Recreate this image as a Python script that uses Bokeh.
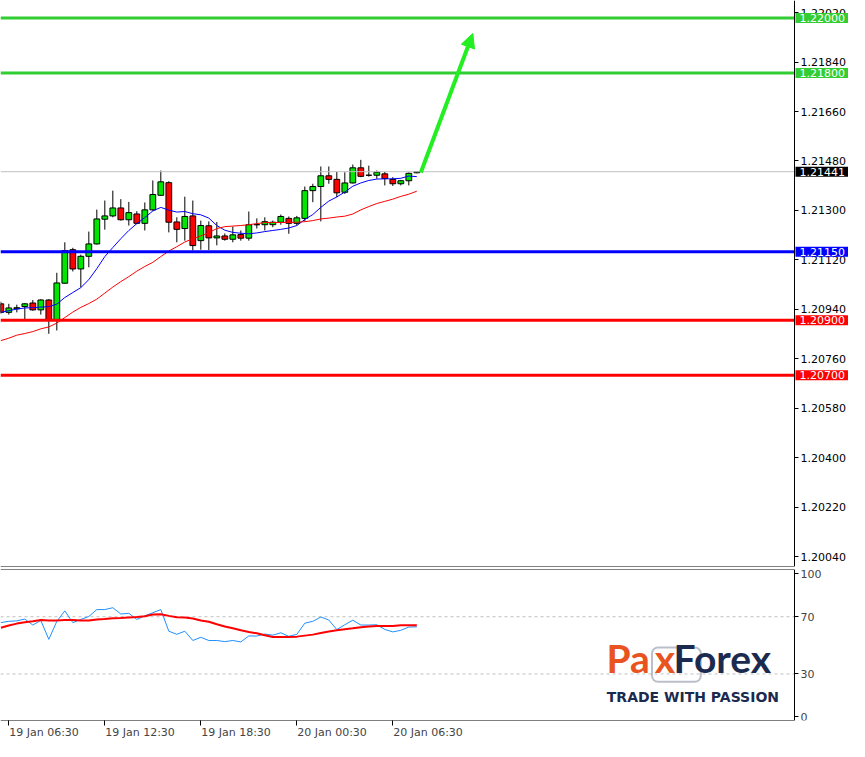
from bokeh.plotting import figure
from bokeh.models import (ColumnDataSource, Range1d, FixedTicker, Label,
                          Arrow, NormalHead, BoxAnnotation, NumeralTickFormatter, LinearAxis)
from bokeh.layouts import column
from bokeh.embed import file_html
from bokeh.resources import INLINE

# ---------------- data (EURUSD M30) ----------------
bar_index = list(range(53))
open_ = [1.20960, 1.20929, 1.20942, 1.20950, 1.20963, 1.20938, 1.20974, 1.20902, 1.21035, 1.21157,
         1.21087, 1.21133, 1.21178, 1.21268, 1.21280, 1.21309, 1.21266, 1.21287, 1.21253, 1.21302,
         1.21355, 1.21401, 1.21258, 1.21234, 1.21280, 1.21190, 1.21244, 1.21200, 1.21207, 1.21195,
         1.21212, 1.21199, 1.21248, 1.21248, 1.21248, 1.21257, 1.21271, 1.21253, 1.21271, 1.21372,
         1.21387, 1.21426, 1.21413, 1.21366, 1.21400, 1.21455, 1.21428, 1.21428, 1.21433, 1.21413,
         1.21397, 1.21408, 1.21437]
high = [1.20968, 1.20960, 1.20957, 1.20963, 1.20974, 1.20977, 1.20977, 1.21073, 1.21184, 1.21164,
        1.21139, 1.21223, 1.21303, 1.21336, 1.21372, 1.21341, 1.21331, 1.21297, 1.21329, 1.21409,
        1.21445, 1.21406, 1.21275, 1.21350, 1.21336, 1.21263, 1.21260, 1.21258, 1.21216, 1.21241,
        1.21227, 1.21296, 1.21271, 1.21275, 1.21263, 1.21285, 1.21278, 1.21280, 1.21387, 1.21397,
        1.21460, 1.21460, 1.21440, 1.21439, 1.21467, 1.21484, 1.21463, 1.21445, 1.21440, 1.21421,
        1.21411, 1.21438, 1.21442]
low = [1.20924, 1.20921, 1.20929, 1.20902, 1.20935, 1.20921, 1.20851, 1.20863, 1.21034, 1.21078,
       1.21020, 1.21093, 1.21176, 1.21230, 1.21275, 1.21263, 1.21245, 1.21250, 1.21227, 1.21299,
       1.21354, 1.21220, 1.21184, 1.21190, 1.21154, 1.21157, 1.21156, 1.21173, 1.21190, 1.21184,
       1.21190, 1.21190, 1.21234, 1.21227, 1.21239, 1.21248, 1.21215, 1.21245, 1.21260, 1.21330,
       1.21260, 1.21397, 1.21348, 1.21360, 1.21398, 1.21421, 1.21423, 1.21415, 1.21391, 1.21389,
       1.21391, 1.21391, 1.21435]
close = [1.20929, 1.20945, 1.20946, 1.20960, 1.20938, 1.20974, 1.20902, 1.21036, 1.21154, 1.21087,
         1.21133, 1.21178, 1.21269, 1.21280, 1.21309, 1.21266, 1.21292, 1.21253, 1.21302, 1.21358,
         1.21404, 1.21257, 1.21231, 1.21278, 1.21172, 1.21245, 1.21200, 1.21207, 1.21195, 1.21211,
         1.21199, 1.21248, 1.21248, 1.21259, 1.21257, 1.21278, 1.21253, 1.21273, 1.21372, 1.21387,
         1.21426, 1.21413, 1.21364, 1.21400, 1.21455, 1.21424, 1.21428, 1.21439, 1.21416, 1.21397,
         1.21408, 1.21435, 1.21441]
ma_fast = [1.20929, 1.20935, 1.20941, 1.20945, 1.20946, 1.20948, 1.20950, 1.20959, 1.20983, 1.21001,
           1.21019, 1.21048, 1.21088, 1.21132, 1.21165, 1.21197, 1.21227, 1.21252, 1.21274, 1.21298,
           1.21311, 1.21301, 1.21294, 1.21296, 1.21288, 1.21284, 1.21272, 1.21245, 1.21228, 1.21220,
           1.21217, 1.21215, 1.21218, 1.21223, 1.21227, 1.21231, 1.21236, 1.21245, 1.21267, 1.21285,
           1.21311, 1.21334, 1.21349, 1.21367, 1.21388, 1.21400, 1.21409, 1.21414, 1.21415, 1.21415,
           1.21417, 1.21425, 1.21423]
ma_slow = [1.20826, 1.20835, 1.20846, 1.20852, 1.20859, 1.20869, 1.20876, 1.20890, 1.20910, 1.20930,
           1.20947, 1.20961, 1.20977, 1.20999, 1.21021, 1.21041, 1.21059, 1.21079, 1.21096, 1.21111,
           1.21132, 1.21152, 1.21168, 1.21185, 1.21197, 1.21207, 1.21219, 1.21234, 1.21241, 1.21243,
           1.21245, 1.21248, 1.21252, 1.21256, 1.21256, 1.21256, 1.21256, 1.21257, 1.21259, 1.21263,
           1.21269, 1.21272, 1.21276, 1.21279, 1.21287, 1.21302, 1.21314, 1.21325, 1.21333, 1.21341,
           1.21351, 1.21359, 1.21370]
osc_main = [65.9, 66.8, 67.1, 68.4, 64.2, 67.4, 54.2, 66.8, 74.1, 65.9,
            68.1, 70.2, 75.0, 75.0, 76.3, 71.9, 72.4, 68.1, 70.6, 72.8,
            75.0, 59.9, 57.7, 59.9, 53.4, 55.6, 53.4, 53.4, 52.6, 53.4,
            52.4, 56.6, 56.5, 57.9, 57.1, 58.8, 56.3, 57.7, 65.5, 66.8,
            69.8, 67.7, 61.0, 64.4, 67.6, 64.2, 64.2, 64.4, 61.1, 59.4,
            60.5, 62.8, 62.9]
osc_signal = [62.3, 63.9, 65.2, 66.1, 66.8, 67.7, 67.4, 67.4, 67.7, 67.7,
              67.4, 67.4, 68.1, 68.4, 69.0, 69.2, 69.5, 69.8, 70.3, 71.5,
              71.7, 70.6, 69.7, 69.4, 68.8, 67.4, 66.5, 64.8, 63.2, 61.9,
              60.5, 59.4, 58.4, 57.1, 55.8, 55.8, 55.8, 56.1, 56.8, 57.5,
              58.7, 59.7, 60.5, 61.2, 61.9, 62.7, 63.2, 63.5, 63.5, 63.5,
              64.0, 64.0, 64.0]

price_ticks = [1.20040, 1.20220, 1.20400, 1.20580, 1.20760, 1.20940,
               1.21120, 1.21300, 1.21480, 1.21660, 1.21840, 1.22020]
osc_ticks = [0, 30, 70, 100]
osc_levels = [70, 30]
time_tick_pos = [1, 13, 25, 37, 49]
time_tick_labels = ["19 Jan 06:30", "19 Jan 12:30", "19 Jan 18:30",
                    "20 Jan 00:30", "20 Jan 06:30"]

levels = [1.22000, 1.21800, 1.21150, 1.20900, 1.20700]
level_colors = ["#32cd32", "#32cd32", "#0000ff", "#ff0000", "#ff0000"]
last_price = 1.21441
arrow_x = [52.5, 59.0]
arrow_y = [1.21438, 1.21944]

FONT = "DejaVu Sans"
GREEN = "#00e600"
RED = "#ff0000"
NAVY = "#1b2a4e"
ORANGE = "#e8531f"

# ---------------- geometry ----------------
CW = 849            # canvas / frame width
AX_PX = 794         # pixel column of the price scale
PX_PER_BAR = 8.0
x0 = -0.04
x_range = Range1d(x0, x0 + CW / PX_PER_BAR)
axis_x = x0 + AX_PX / PX_PER_BAR     # data x where the right-hand scale sits

# ---------------- sources ----------------
body_top = [max(o, c) for o, c in zip(open_, close)]
body_bot = [min(o, c) for o, c in zip(open_, close)]
body_col = [GREEN if c >= o else RED for o, c in zip(open_, close)]
src = ColumnDataSource(dict(x=bar_index, o=open_, h=high, l=low, c=close,
                            top=body_top, bot=body_bot, col=body_col,
                            maf=ma_fast, mas=ma_slow,
                            om=osc_main, osig=osc_signal))

# ---------------- main price panel ----------------
p = figure(frame_width=CW, frame_height=566, x_range=x_range,
           y_range=Range1d(1.20004, 1.22064),
           output_backend="svg", toolbar_location=None,
           x_axis_location=None, y_axis_location="right",
           min_border_left=0, min_border_top=0, min_border_bottom=3,
           min_border_right=0, background_fill_color="white",
           border_fill_color="white", outline_line_color=None)
p.grid.visible = False

p.segment(x0="x", y0="l", x1="x", y1="h", source=src, line_color="black", line_width=1)
p.vbar(x="x", top="top", bottom="bot", width=0.72, source=src,
       fill_color="col", line_color="black", line_width=1)
p.line(x="x", y="maf", source=src, line_color="#0000ff", line_width=1)
p.line(x="x", y="mas", source=src, line_color="#ff0000", line_width=1)

n_lv = len(levels)
p.segment(x0=[x0], x1=[axis_x], y0=[last_price], y1=[last_price],
          line_color="#c0c0c0", line_width=1)
p.segment(x0=[x0] * n_lv, x1=[axis_x] * n_lv, y0=levels, y1=levels,
          line_color=level_colors, line_width=3)
# bottom border of the price window
p.segment(x0=[x0], x1=[axis_x], y0=[p.y_range.start], y1=[p.y_range.start],
          line_color="black", line_width=1)

p.add_layout(Arrow(end=NormalHead(size=14, fill_color="#22ee22", line_color="#22ee22"),
                   x_start=arrow_x[0], y_start=arrow_y[0],
                   x_end=arrow_x[1], y_end=arrow_y[1],
                   line_color="#22ee22", line_width=4))

ya = p.yaxis[0]
ya.fixed_location = axis_x
ya.ticker = FixedTicker(ticks=price_ticks)
ya.formatter = NumeralTickFormatter(format="0.00000")
ya.axis_line_color = "black"
ya.major_tick_out = 4
ya.major_tick_in = 0
ya.minor_tick_out = 0
ya.minor_tick_in = 0
ya.major_label_standoff = 2
ya.major_label_text_font = FONT
ya.major_label_text_font_size = "11px"
ya.major_label_text_color = "black"

# --- coloured price boxes on the right scale ---
box_values = levels + [last_price]
box_colors = level_colors + ["black"]
box_texts = [f"{v:.5f}" for v in box_values]
for t, v, c in zip(box_texts, box_values, box_colors):
    lab = Label(x=axis_x, y=v, x_offset=1, text=t, text_font=FONT, text_font_size="11px",
                text_color="white", text_align="left", text_baseline="middle",
                background_fill_color=c, level="overlay")
    try:
        lab.padding = dict(left=4, right=3, top=1, bottom=1)
    except Exception:
        try:
            lab.padding = 2
        except Exception:
            pass
    p.add_layout(lab)

# ---------------- oscillator panel ----------------
q = figure(frame_width=CW, frame_height=151, x_range=x_range,
           y_range=Range1d(-2.5, 103),
           output_backend="svg", toolbar_location=None,
           y_axis_location="right",
           min_border_left=0, min_border_top=0, min_border_bottom=0,
           min_border_right=0, background_fill_color="white",
           border_fill_color="white", outline_line_color=None)
q.grid.visible = False
n_ol = len(osc_levels)
q.segment(x0=[x0] * n_ol, x1=[axis_x] * n_ol, y0=osc_levels, y1=osc_levels,
          line_color="#c0c0c0", line_width=1, line_dash="3 3")

# logo
q.add_layout(BoxAnnotation(left=81.4, right=87.5, bottom=24.5, top=48.5,
                           fill_color=None, line_color=NAVY, line_width=2,
                           border_radius=6))
q.add_layout(Label(x=75.7, y=25.2, text="Pa", text_font="Lato", text_font_style="bold",
                   text_font_size="39px", text_color=ORANGE))
q.add_layout(Label(x=81.75, y=25.2, text="x", text_font="Lato", text_font_style="bold",
                   text_font_size="39px", text_color=ORANGE))
q.add_layout(Label(x=84.1, y=25.2, text="Forex", text_font="Lato", text_font_style="bold",
                   text_font_size="39px", text_color=NAVY))
q.add_layout(Label(x=75.75, y=8.0, text="TRADE WITH PASSION", text_font=FONT,
                   text_font_style="bold", text_font_size="14px", text_color=NAVY))

q.line(x="x", y="om", source=src, line_color="#1e90ff", line_width=1)
q.line(x="x", y="osig", source=src, line_color="#ff0000", line_width=2)

# top and bottom borders of the oscillator window
q.segment(x0=[x0, x0], x1=[axis_x, axis_x], y0=[q.y_range.end, q.y_range.start],
          y1=[q.y_range.end, q.y_range.start], line_color="black", line_width=1)

qa = q.yaxis[0]
qa.fixed_location = axis_x
qa.ticker = FixedTicker(ticks=osc_ticks)
qa.axis_line_color = "black"
qa.major_tick_out = 4
qa.major_tick_in = 0
qa.minor_tick_out = 0
qa.minor_tick_in = 0
qa.major_label_standoff = 2
qa.major_label_text_font = FONT
qa.major_label_text_font_size = "11px"

# time axis: tick marks on one axis, left-aligned labels on a second one below it
xa = q.xaxis[0]
xa.ticker = FixedTicker(ticks=time_tick_pos)
xa.major_label_overrides = {k: "" for k in time_tick_pos}
xa.axis_line_color = None
xa.major_tick_out = 5
xa.major_tick_in = 0
xa.minor_tick_out = 0
xa.minor_tick_in = 0
xa.major_label_standoff = 0

label_shift = 4.4  # label centre sits right of its tick (MT4 style)
label_pos = [t + label_shift for t in time_tick_pos]
xb = LinearAxis(ticker=FixedTicker(ticks=label_pos),
                major_label_overrides={k: v for k, v in zip(label_pos, time_tick_labels)},
                axis_line_color=None, major_tick_out=0, major_tick_in=0,
                minor_tick_out=0, minor_tick_in=0, major_label_standoff=0,
                major_label_text_font=FONT, major_label_text_font_size="11px")
q.add_layout(xb, "below")

layout = column(p, q, spacing=0)
open("out.html", "w").write(file_html(layout, INLINE))
